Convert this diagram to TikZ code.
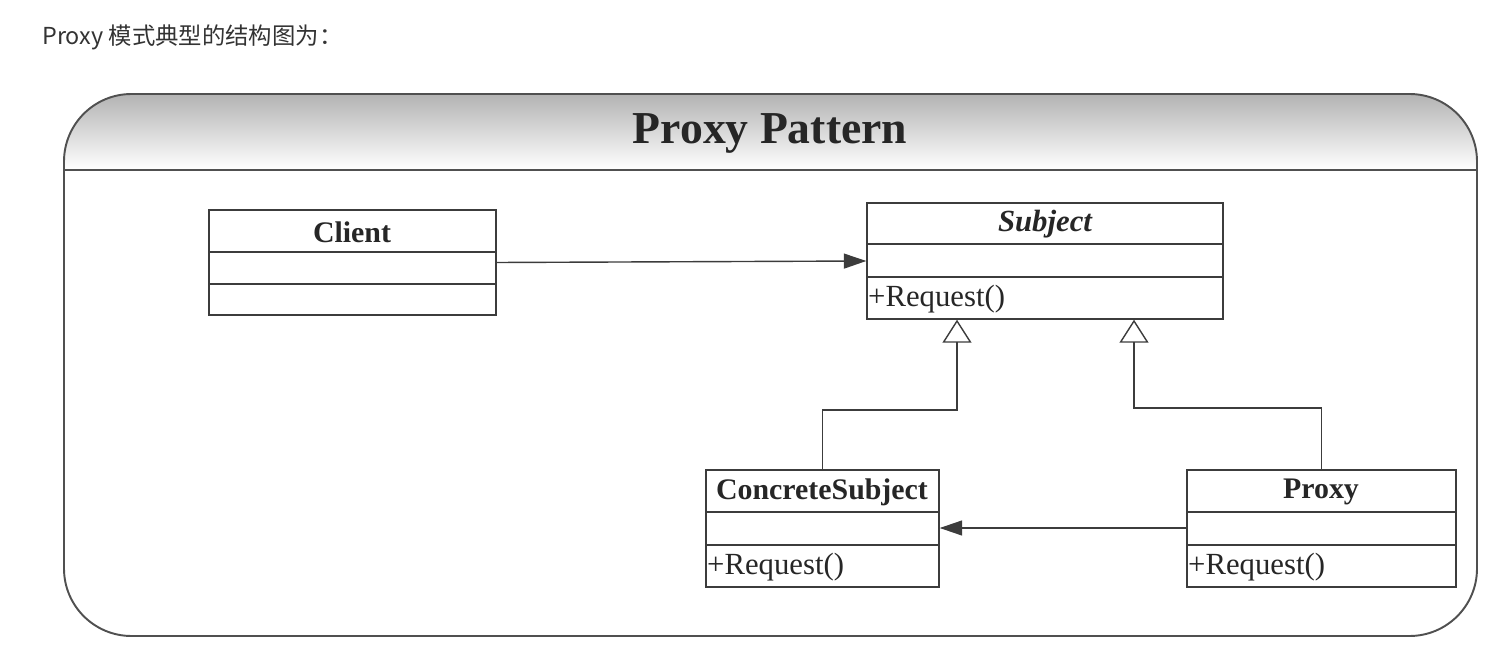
\documentclass[tikz,border=0pt]{standalone}
\usepackage{fontspec}
\setmainfont{Liberation Serif}
\newfontfamily\cjk{Noto Sans CJK SC}
\usetikzlibrary{arrows.meta,fit}
\definecolor{linegray}{HTML}{3C3C3C}
\definecolor{framegray}{HTML}{505050}
\definecolor{captiongray}{HTML}{333333}

\tikzset{
  classbox/.style={draw=linegray,line width=0.8pt,inner sep=0pt,fill=white},
  classname/.style={font=\fontsize{17}{20}\selectfont\bfseries,text=black!85},
  classop/.style={font=\fontsize{17.5}{20}\selectfont,anchor=west,inner sep=0.5pt,text=black!85},
  compart/.style={draw=linegray,line width=0.8pt},
  assoc/.style={draw=linegray,line width=0.8pt,-{Triangle[width=0.3cm,length=0.45cm]}},
  gen/.style={draw=linegray,line width=0.8pt,-{Triangle[open,width=0.58cm,length=0.46cm,fill=white]}},
}

\begin{document}
\begin{tikzpicture}[x=0.02cm,y=-0.02cm]
\useasboundingbox (0,0) rectangle (1505,662);

% caption above the picture
\node (caption) at (42,37)[anchor=west,inner sep=0pt,text=captiongray,font=\cjk\fontsize{13.3}{16}\selectfont]{Proxy 模式典型的结构图为：};

% frame with shaded header
\begin{scope}
\clip[rounded corners=1.35cm] (64,94) rectangle (1477,636);
\shade[top color=black!30,bottom color=white] (64,94) rectangle (1477,170);
\end{scope}
\draw[framegray,line width=1.1pt,rounded corners=1.35cm] (64,94) rectangle (1477,636);
\draw[framegray,line width=1.1pt] (64,170) -- (1477,170);
\node (title) at (770,133)[font=\fontsize{26}{30}\selectfont\bfseries,text=black!85]{Proxy Pattern};

% classes
\node (client) [classbox,fit={(209,210) (496,315)}]{};
\draw[compart] (209,252) -- (496,252);
\draw[compart] (209,284) -- (496,284);
\node (clientname) at (352,232)[classname]{Client};

\node (subject) [classbox,fit={(867,203) (1223,319)}]{};
\draw[compart] (867,244) -- (1223,244);
\draw[compart] (867,277) -- (1223,277);
\node (subjectname) at (1045,224)[classname,font=\fontsize{17.5}{20}\selectfont\bfseries\itshape]{Subject};
\node (subjectop) at (867,299)[classop]{+Request()};

\node (concrete) [classbox,fit={(706,470) (939,587)}]{};
\draw[compart] (706,512) -- (939,512);
\draw[compart] (706,545) -- (939,545);
\node (concretename) at (822,492)[classname]{ConcreteSubject};
\node (concreteop) at (706,567)[classop]{+Request()};

\node (proxy) [classbox,fit={(1187,470) (1456,587)}]{};
\draw[compart] (1187,512) -- (1456,512);
\draw[compart] (1187,545) -- (1456,545);
\node (proxyname) at (1321,492)[classname]{Proxy};
\node (proxyop) at (1187,567)[classop]{+Request()};

% relations
\draw[assoc] (client.east) -- (subject.west);
\draw[assoc] (proxy.west |- 0,528) -- (concrete.east |- 0,528);
\draw[gen] (concrete.north) |- (957,410) -- (subject.south -| 957,0);
\draw[gen] (proxy.north) |- (1134,408) -- (subject.south -| 1134,0);
\end{tikzpicture}
\end{document}
